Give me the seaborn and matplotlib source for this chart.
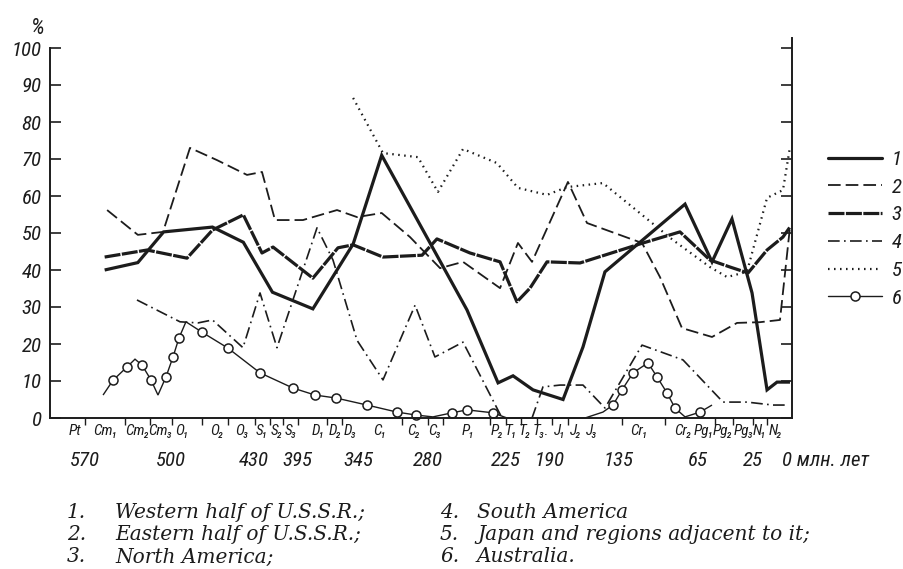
import numpy as np
import pandas as pd
import matplotlib
matplotlib.use("Agg")
import matplotlib.pyplot as plt
import matplotlib.transforms as mtransforms
from matplotlib import font_manager
from matplotlib.lines import Line2D
import seaborn as sns

# ---------------- data (age in Ma, share in %) ----------------
w_ussr_age = [554, 527, 506, 465, 439, 415, 382, 349, 323, 252.5, 230.6, 219.4, 203.5,
              179.6, 163.7, 146.2, 76.5, 54.8, 40.3, 25.7, 16.0, 9.6, 1.3]
w_ussr_pct = [40.0, 42.0, 50.3, 51.6, 47.5, 34.0, 29.5, 47.0, 71.0, 29.2, 9.5, 11.4, 7.6,
              5.0, 19.2, 39.5, 57.8, 42.2, 53.8, 33.8, 7.6, 9.7, 9.7]

e_ussr_age = [552, 527, 506.5, 484, 461.2, 435.9, 423.5, 412.9, 390.1, 362.2, 345.8, 323,
              296.7, 271.5, 255.3, 229.2, 215.5, 204.3, 175.7, 160.5, 114.6, 98.7, 79.2,
              54.8, 36.6, 20.5, 7.7, 1.3]
e_ussr_pct = [56.2, 49.5, 50.3, 73.0, 69.7, 65.7, 66.5, 53.5, 53.5, 56.2, 54.3, 55.4,
              48.9, 40.5, 42.2, 35.1, 47.3, 42.2, 63.8, 52.7, 47.3, 38.1, 24.3,
              21.9, 25.7, 25.9, 26.5, 51.6]

n_amer_age = [554, 519.5, 486.5, 465, 439, 423.5, 414.5, 382, 361.4, 349, 321.8, 285.5,
              273.7, 250.4, 229.2, 216.3, 205.9, 192.4, 166.1, 113.7, 81, 56.3, 41.7,
              28.6, 16.0, 5.8, 1.3]
n_amer_pct = [43.5, 45.4, 43.2, 50.8, 54.9, 44.6, 46.2, 37.8, 46.0, 46.8, 43.5, 44.0,
              48.4, 44.6, 42.2, 31.4, 35.1, 42.2, 41.9, 47.3, 50.3, 42.7, 40.8,
              39.2, 45.4, 48.9, 51.6]

s_amer_age = [527.7, 492.4, 477.2, 465, 439.3, 425.1, 411.3, 378.6, 365.5, 345.8, 321.8,
              292, 275.1, 255.3, 227.8, 204.3, 195.6, 182, 163.7, 146.2, 114.6, 78.3,
              46.8, 29.4, 12.2, 2.6]
s_amer_pct = [31.9, 26.0, 25.7, 26.5, 19.0, 33.8, 19.0, 51.4, 42.7, 21.0, 10.3,
              30.5, 16.5, 20.5, 0.0, 0.0, 8.4, 8.9, 8.9, 2.7, 19.7, 15.7,
              4.3, 4.3, 3.5, 3.5]

japan_age = [349, 321.8, 289.3, 273, 255.3, 231.4, 215.5, 192.4, 176.5, 147.8, 101.3,
             87.2, 56.3, 43.9, 29.4, 16.0, 5.8, 1.3]
japan_pct = [86.5, 71.6, 70.5, 61.1, 72.7, 68.9, 62.2, 60.3, 62.4, 63.5, 51.6,
             48.1, 40.8, 38.1, 39.5, 59.5, 61.6, 73.2]

austr_age = [555.3, 547.2, 535.8, 529.3, 523.6, 516.3, 510.6, 504.1, 498.3, 493.3, 487.4,
             473.9, 452, 425.1, 398.3, 380.2, 363, 336.6, 308.8, 291.1, 276.5, 263.1,
             252.5, 234.2, 224.2, 213.9, 162.1, 147.8, 139.8, 132.3, 122.6, 109.3,
             101.3, 92.5, 85.4, 76.5, 63.5, 54.8]
austr_pct = [6.2, 10.2, 13.8, 15.9, 14.3, 10.3, 6.2, 11.1, 16.5, 21.6, 26.0,
             23.2, 18.9, 12.2, 8.1, 6.2, 5.4, 3.5, 1.6, 0.8, 0.3, 1.4,
             2.2, 1.4, 0.0, 0.0, 0.0, 1.6, 3.5, 7.6, 12.2, 14.9,
             11.1, 6.8, 2.7, 0.3, 1.6, 3.5]
austr_marked = [1, 2, 4, 5, 7, 8, 9, 11, 12, 13, 14, 15, 16, 17, 18, 19, 21, 22, 23,
                28, 29, 30, 31, 32, 33, 34, 36]

stage_labels = ["Pt", "Cm₁", "Cm₂", "Cm₃", "O₁", "O₂", "O₃", "S₁", "S₂", "S₃",
                "D₁", "D₂", "D₃", "C₁", "C₂", "C₃", "P₁", "P₂", "T₁", "T₂", "T₃.",
                "J₁", "J₂", "J₃", "Cr₁", "Cr₂", "Pg₁", "Pg₂", "Pg₃", "N₁", "N₂"]
stage_centers = [578.6, 553.7, 527.7, 509, 490.7, 461.2, 440.1, 423.5, 411.3, 399.9,
                 377.8, 363.9, 351.6, 324.6, 293, 275.1, 251.8, 231.4, 221, 209.9, 197.2,
                 182, 169.3, 156.5, 117.3, 78.3, 60.5, 47.0, 32.0, 20.6, 10.6]
stage_bounds = [570, 537.4, 517.1, 499, 473.9, 452, 429, 417, 406.4, 394, 370.4, 358.1,
                304.1, 280, 269.4, 236.3, 225, 213.1, 200.4, 188.4, 175.7, 132.3,
                94.2, 52.6, 39.6, 25, 16]
age_ticks = [570, 500, 430, 395, 345, 280, 225, 190, 135, 65, 25]
y_ticks = [0, 10, 20, 30, 40, 50, 60, 70, 80, 90, 100]

legend_numbers = ["1", "2", "3", "4", "5", "6"]
caption_left = [("1.", "Western half of U.S.S.R.;"),
                ("2.", "Eastern half of U.S.S.R.;"),
                ("3.", "North America;")]
caption_right = [("4.", "South America"),
                 ("5.", "Japan and regions adjacent to it;"),
                 ("6.", "Australia.")]

# ---------------- styling ----------------
sns.set_theme(style="white")
italic_fams = {f.name for f in font_manager.fontManager.ttflist
               if f.style in ("italic", "oblique")}
narrow = "DejaVu Sans"
for cand in ["Liberation Sans Narrow", "Roboto Condensed", "Roboto", "Liberation Sans",
             "Lato", "Noto Sans"]:
    if cand in italic_fams:
        narrow = cand
        break
NARROW = [narrow, "DejaVu Sans"]
plt.rcParams["font.family"] = NARROW
INK = "#1c1c1c"

W, H = 904, 569
fig = plt.figure(figsize=(W / 100, H / 100), dpi=100)
ax_left, ax_right, ax_bottom, ax_top = 50, 792, 418, 38
ax = fig.add_axes([ax_left / W, 1 - ax_bottom / H,
                   (ax_right - ax_left) / W, (ax_bottom - ax_top) / H])

# piecewise-linear geological time scale (as drawn in the original)
scale_age = np.array([0, 25, 65, 135, 190, 225, 280, 345, 395, 430, 500, 570, 600], float)
scale_pos = np.array([0, 39, 94, 173, 242, 286, 364, 434, 495, 538, 621, 707, 742], float)


def fwd(a):
    return np.interp(a, scale_age, scale_pos)


def inv(p):
    return np.interp(p, scale_pos, scale_age)


ax.set_xscale("function", functions=(fwd, inv))

styles = [
    dict(lw=2.3, linestyle="-"),
    dict(lw=1.3, linestyle=(0, (7.0, 2.8))),
    dict(lw=2.3, linestyle=(0, (5.0, 0.45))),
    dict(lw=1.2, linestyle=(0, (7.0, 2.6, 1.0, 2.6))),
    dict(lw=1.6, linestyle=(0, (0.7, 2.0))),
    dict(lw=1.0, linestyle="-", marker="o", markersize=6.5, markerfacecolor="white",
         markeredgecolor=INK, markeredgewidth=1.1),
]
data = [(w_ussr_age, w_ussr_pct), (e_ussr_age, e_ussr_pct), (n_amer_age, n_amer_pct),
        (s_amer_age, s_amer_pct), (japan_age, japan_pct), (austr_age, austr_pct)]

for i, ((xs, ys), kw) in enumerate(zip(data, styles)):
    df = pd.DataFrame({"age": xs, "pct": ys})
    extra = dict(markevery=austr_marked) if i == 5 else {}
    sns.lineplot(data=df, x="age", y="pct", ax=ax, color=INK, sort=False,
                 estimator=None, solid_capstyle="butt", dash_capstyle="butt",
                 solid_joinstyle="miter", clip_on=False, **kw, **extra)

ax.set_xlim(600, 0)
ax.set_ylim(0, (ax_bottom - ax_top) / 3.70)
ax.set_xlabel("")
ax.set_ylabel("")

ax.spines["top"].set_visible(False)
for s in ["left", "right", "bottom"]:
    ax.spines[s].set_color(INK)
    ax.spines[s].set_linewidth(1.4)
ax.spines["left"].set_bounds(0, 100)

ax.set_yticks(y_ticks)
ax.set_yticklabels([str(v) for v in y_ticks])
ax.tick_params(axis="y", which="major", left=True, right=True, direction="in",
               length=8, width=1.2, color=INK, pad=6, labelsize=15, labelcolor=INK)
for t in ax.get_yticklabels():
    t.set_fontstyle("italic")
    t.set_family(NARROW)

ax.set_xticks(stage_bounds)
ax.set_xticklabels([])
ax.tick_params(axis="x", which="major", bottom=True, direction="out", length=5,
               width=1.0, color=INK)
ax.xaxis.set_minor_locator(matplotlib.ticker.NullLocator())

trans = mtransforms.blended_transform_factory(ax.transData, ax.transAxes)
ax_h = ax_bottom - ax_top
for lab, c in zip(stage_labels, stage_centers):
    ax.text(c, -(431 - ax_bottom) / ax_h, lab, transform=trans, ha="center",
            va="center", fontsize=11, style="italic", color=INK, family=NARROW)
for a in age_ticks:
    ax.text(a, -(461 - ax_bottom) / ax_h, str(a), transform=trans, ha="center",
            va="center", fontsize=15, style="italic", color=INK, family=NARROW)
zero_trans = trans + mtransforms.ScaledTranslation(-10 / 100, 0, fig.dpi_scale_trans)
ax.text(0, -(461 - ax_bottom) / ax_h, "0 млн. лет", transform=zero_trans, ha="left",
        va="center", fontsize=15, style="italic", color=INK, family=NARROW)

fig.text(38 / W, 1 - 28 / H, "%", ha="center", va="center", fontsize=16,
         style="italic", color=INK, family=NARROW)

# right-hand legend with numbers
leg_handles = [Line2D([], [], color=INK, **kw) for kw in styles]
leg = fig.legend(handles=leg_handles, labels=legend_numbers, loc="upper left",
                 bbox_to_anchor=(828 / W, 1 - 150 / H), frameon=False,
                 handlelength=2.6, handletextpad=0.45, labelspacing=0.42,
                 borderpad=0, borderaxespad=0, fontsize=15, numpoints=1)
for t in leg.get_texts():
    t.set_fontstyle("italic")
    t.set_color(INK)
    t.set_family(NARROW)

# caption under the chart
rows_y = [513, 535, 557]
cap_kw = dict(ha="left", va="center", fontsize=14.5, family="DejaVu Serif",
              style="italic", color=INK)
for (num, txt), y in zip(caption_left, rows_y):
    fig.text(67 / W, 1 - y / H, num, **cap_kw)
    fig.text(115 / W, 1 - y / H, txt, **cap_kw)
for (num, txt), y in zip(caption_right, rows_y):
    fig.text(440 / W, 1 - y / H, num, **cap_kw)
    fig.text(477 / W, 1 - y / H, txt, **cap_kw)

fig.savefig("out.png", dpi=100, facecolor="white")
